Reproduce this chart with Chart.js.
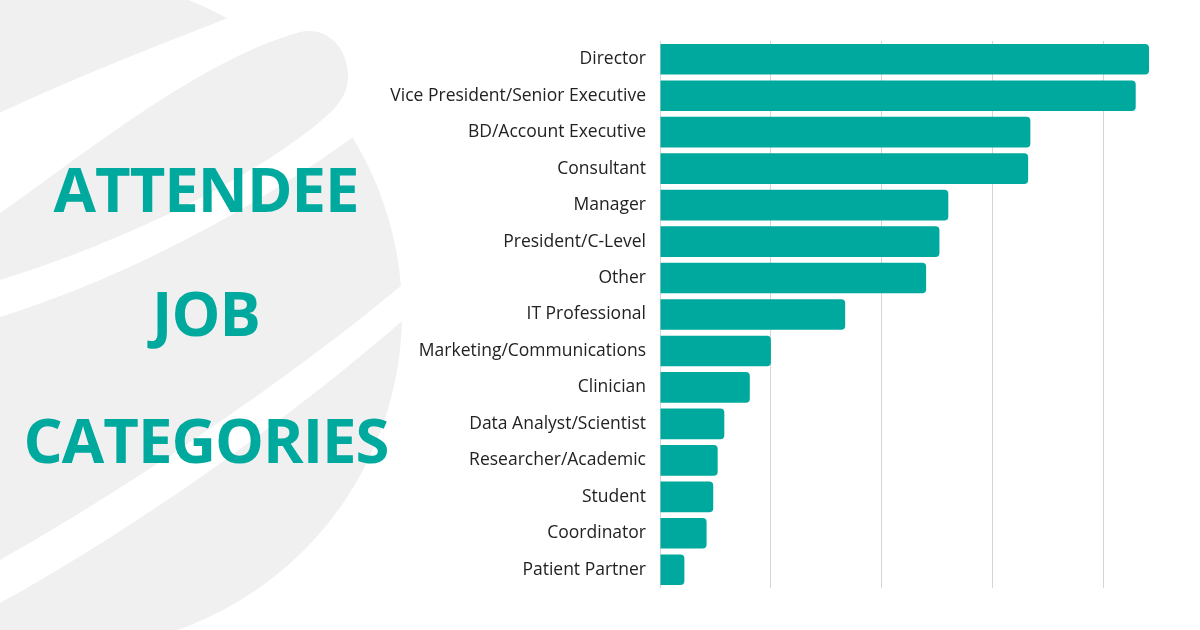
<!DOCTYPE html>
<html>
<head>
<meta charset="utf-8">
<script src="https://cdn.jsdelivr.net/npm/chart.js@4.4.1/dist/chart.umd.min.js"></script>
<style>
  html, body { margin: 0; padding: 0; background: #ffffff; }
  #wrap { position: relative; width: 1200px; height: 630px; overflow: hidden; background: #ffffff; }
  #bg { position: absolute; left: 0; top: 0; }
  .title { position: absolute; left: 0; width: 412px; text-align: center; font-family: 'Open Sans', sans-serif; font-weight: 700; font-size: 61.6px; line-height: 61.6px; letter-spacing: -1px; color: #00a99d; white-space: nowrap; }
  #chartBox { position: absolute; left: 0; top: 0; width: 1200px; height: 630px; }
</style>
</head>
<body>
<div id="wrap">
  <svg id="bg" width="1200" height="630" viewBox="0 0 1200 630">
    <circle cx="66" cy="313" r="336" fill="#f0f0f0"/>
    <path d="M -5,115 C 80,75 160,45 230,17 L 300,-15 L 480,-15 L 480,40 L 353,137 C 280,190 150,270 0,317 L -5,319 Z" fill="#ffffff"/>
    <path d="M 0,213 C 90,150 200,60 300,32 C 325,26 348,45 348,77 C 348,90 342,100 333,110 C 270,170 130,240 0,280 Z" fill="#f0f0f0"/>
    <path d="M 440,255 L 402,285 C 300,370 150,475 0,560 L -5,562 L -5,605 L 0,603 C 150,520 300,410 403,320 L 440,288 Z" fill="#ffffff"/>
  </svg>
  <div class="title" style="top:157.6px;">ATTENDEE</div>
  <div class="title" style="top:282.3px;">JOB</div>
  <div class="title" style="top:409.3px;">CATEGORIES</div>
  <div id="chartBox"><canvas id="c" width="1200" height="630"></canvas></div>
</div>
<script>
const categories = [
  "Director",
  "Vice President/Senior Executive",
  "BD/Account Executive",
  "Consultant",
  "Manager",
  "President/C-Level",
  "Other",
  "IT Professional",
  "Marketing/Communications",
  "Clinician",
  "Data Analyst/Scientist",
  "Researcher/Academic",
  "Student",
  "Coordinator",
  "Patient Partner"
];
const attendees = [44.1, 42.9, 33.4, 33.2, 26.0, 25.2, 24.0, 16.7, 10.0, 8.1, 5.8, 5.2, 4.8, 4.2, 2.2];
const axisMax = 45;
const axisStep = 10;

new Chart(document.getElementById('c'), {
  type: 'bar',
  data: {
    labels: categories,
    datasets: [{
      data: attendees,
      backgroundColor: '#00a99d',
      borderWidth: 0,
      borderRadius: 4,
      borderSkipped: 'start',
      categoryPercentage: 1.0,
      barPercentage: 0.84
    }]
  },
  options: {
    indexAxis: 'y',
    responsive: false,
    animation: false,
    devicePixelRatio: 1,
    layout: { padding: { left: 380, top: 41, right: 41, bottom: 42 } },
    plugins: { legend: { display: false }, tooltip: { enabled: false }, title: { display: false } },
    scales: {
      x: {
        min: 0,
        max: axisMax,
        ticks: { display: false, stepSize: axisStep },
        border: { display: false },
        grid: {
          drawTicks: false,
          lineWidth: 1,
          color: (ctx) => (ctx.tick && ctx.tick.value % axisStep === 0) ? '#d5d5d5' : 'rgba(0,0,0,0)'
        },
        afterFit: (s) => { s.height = 0; }
      },
      y: {
        ticks: {
          color: '#222222',
          font: { family: "'Open Sans', sans-serif", size: 17.5 },
          padding: 14,
          autoSkip: false
        },
        border: { display: false },
        grid: { display: false, drawTicks: false },
        afterFit: (s) => { s.width = 280; }
      }
    }
  }
});
</script>
</body>
</html>
